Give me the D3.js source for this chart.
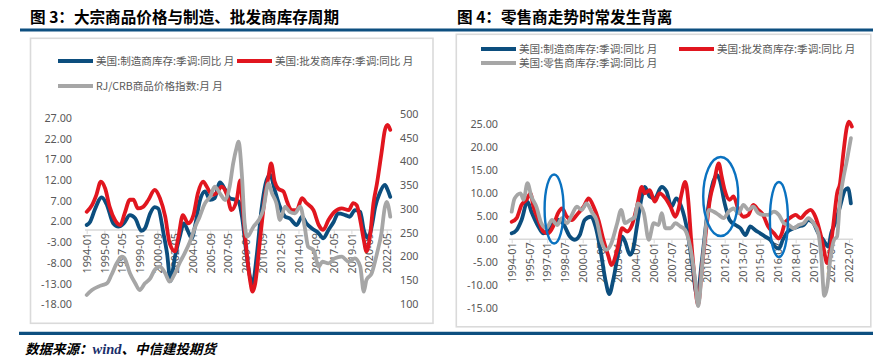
<!DOCTYPE html>
<html><head><meta charset="utf-8">
<script src="https://cdn.jsdelivr.net/npm/d3@7"></script>
<style>body{margin:0;background:#fff}svg{display:block}</style>
</head><body><svg id="c" width="892" height="362"></svg>
<script>
// ---------- DATA ----------
const fig3Title = "图 3：大宗商品价格与制造、批发商库存周期";
const fig4Title = "图 4：零售商走势时常发生背离";
const fig3Legend = ["美国:制造商库存:季调:同比 月", "美国:批发商库存:季调:同比 月", "RJ/CRB商品价格指数:月 月"];
const fig4Legend = ["美国:制造商库存:季调:同比 月", "美国:批发商库存:季调:同比 月", "美国:零售商库存:季调:同比 月"];
const fig3XTicks = ["1994-01","1995-09","1997-05","1999-01","2000-09","2002-05","2004-01","2005-09","2007-05","2009-01","2010-09","2012-05","2014-01","2015-09","2017-05","2019-01","2020-09","2022-05"];
const fig4XTicks = ["1994-01","1995-07","1997-01","1998-07","2000-01","2001-07","2003-01","2004-07","2006-01","2007-07","2009-01","2010-07","2012-01","2013-07","2015-01","2016-07","2018-01","2019-07","2021-01","2022-07"];
const fig3LeftTicks = [27,22,17,12,7,2,-3,-8,-13,-18];
const fig3RightTicks = [500,450,400,350,300,250,200,150,100];
const fig4YTicks = [25,20,15,10,5,0,-5,-10,-15];

const fig3Mfg = [["1994-01",1.2],["1994-05",2.0],["1994-10",4.8],["1995-06",7.9],["1995-12",6.0],["1996-07",1.6],["1997-01",0.8],["1997-07",1.6],["1998-02",3.6],["1998-08",2.8],["1999-03",-0.2],["1999-07",0.4],["2000-01",4.0],["2000-06",5.5],["2000-10",5.2],["2001-04",-0.8],["2001-08",-5.6],["2001-12",-12.3],["2002-05",-6.5],["2002-11",-1.2],["2003-03",1.6],["2003-08",-0.4],["2003-12",-2.0],["2004-04",1.2],["2004-09",6.9],["2005-03",9.3],["2005-09",7.3],["2006-02",7.7],["2006-08",11.5],["2007-02",9.7],["2007-07",7.7],["2008-01",7.3],["2008-05",6.9],["2008-09",3.2],["2009-02",-5.6],["2009-06",-11.3],["2009-09",-12.9],["2010-02",-5.6],["2010-07",4.8],["2011-01",12.1],["2011-05",13.3],["2011-10",9.7],["2012-04",5.6],["2012-10",3.2],["2013-03",2.8],["2013-11",1.2],["2014-05",3.2],["2014-10",1.6],["2015-04",0.4],["2015-12",-0.8],["2016-05",-2.0],["2016-11",0.0],["2017-05",2.0],["2017-10",4.0],["2018-06",3.6],["2018-11",3.2],["2019-05",4.8],["2019-11",4.4],["2020-03",0.0],["2020-08",-2.0],["2020-12",0.8],["2021-04",5.6],["2021-09",8.9],["2022-03",10.9],["2022-06",9.7],["2022-09",8.0]];
const fig3Wholesale = [["1994-01",4.4],["1994-07",6.0],["1994-12",8.5],["1995-05",11.7],["1995-10",10.0],["1996-03",5.6],["1996-09",2.4],["1997-03",1.2],["1997-08",4.0],["1998-02",7.3],["1998-06",7.3],["1998-11",5.2],["1999-05",5.6],["1999-11",7.3],["2000-06",9.7],["2000-12",7.7],["2001-06",3.2],["2001-11",-3.2],["2002-05",-5.2],["2002-09",-1.6],["2003-02",3.6],["2003-08",1.6],["2004-02",3.6],["2004-07",8.9],["2005-01",11.7],["2005-05",10.5],["2005-11",8.5],["2006-04",8.9],["2006-10",10.5],["2007-04",8.5],["2007-09",4.8],["2008-03",7.3],["2008-07",12.0],["2008-10",4.8],["2009-02",-4.8],["2009-06",-12.0],["2009-09",-14.9],["2009-12",-12.9],["2010-05",-3.2],["2010-11",8.0],["2011-03",12.9],["2011-06",16.1],["2011-10",11.7],["2012-02",10.0],["2012-08",9.3],["2012-12",6.9],["2013-05",4.8],["2013-11",4.8],["2014-05",7.7],["2014-10",6.5],["2015-06",4.8],["2015-12",1.2],["2016-05",0.0],["2016-11",2.4],["2017-06",4.4],["2018-02",5.2],["2018-10",4.8],["2019-03",6.5],["2019-07",6.0],["2019-11",2.4],["2020-03",-2.4],["2020-06",-5.2],["2020-10",-1.6],["2021-02",6.5],["2021-06",11.3],["2021-11",18.5],["2022-03",24.2],["2022-06",25.4],["2022-09",24.2]];
const fig3Crb = [["1994-01",119],["1994-07",129.5],["1995-02",136.5],["1995-07",140],["1995-12",143.6],["1996-05",161],["1996-11",185.7],["1997-05",199.6],["1997-08",196],["1998-02",164.6],["1998-08",143.6],["1999-01",129.5],["1999-07",143.6],["2000-01",154],["2000-06",171.6],["2000-12",178.6],["2001-06",164.6],["2001-11",147],["2002-05",164.6],["2002-11",189],["2003-04",206.7],["2003-10",231],["2004-04",262.7],["2004-09",283.8],["2005-03",312],["2005-09",326],["2006-02",347],["2006-08",333],["2007-02",319],["2007-07",347],["2007-11",396],["2008-03",430],["2008-05",441.7],["2008-09",368],["2008-12",270],["2009-03",241.7],["2009-10",262.7],["2010-04",276.8],["2010-09",298],["2011-03",354],["2011-07",333],["2011-12",312],["2012-04",276.8],["2012-10",305],["2013-03",294],["2013-09",291],["2014-03",305],["2014-08",262.7],["2014-12",220.6],["2015-06",213.7],["2015-12",178.6],["2016-04",189],["2016-11",185.7],["2017-06",196],["2018-02",199.6],["2018-10",189],["2019-05",196],["2019-11",178.6],["2020-03",126],["2020-06",150.5],["2020-12",164.6],["2021-06",206.7],["2021-11",248.8],["2022-03",305],["2022-05",315],["2022-09",283.8]];

const fig4Mfg = [["1994-01",1.3],["1994-06",2.0],["1994-11",4.2],["1995-05",8.2],["1995-09",6.0],["1996-04",2.8],["1996-09",1.3],["1997-02",2.0],["1997-07",3.5],["1997-12",4.2],["1998-05",3.5],["1998-12",0.6],["1999-05",-0.1],["1999-10",0.9],["2000-03",4.2],["2000-09",4.9],["2001-02",2.8],["2001-07",-2.3],["2001-12",-8.8],["2002-04",-11.9],["2002-08",-8.8],["2003-01",-3.0],["2003-05",0.6],["2003-08",-0.5],["2004-01",-3.4],["2004-04",-2.3],["2004-08",2.8],["2005-01",9.3],["2005-04",11.4],["2005-09",9.3],["2006-02",8.9],["2006-09",11.4],["2007-02",10.4],["2007-07",7.1],["2007-12",8.9],["2008-05",7.1],["2008-11",2.0],["2009-04",-5.2],["2009-09",-12.3],["2010-02",-4.5],["2010-07",4.9],["2010-12",11.4],["2011-05",14.0],["2011-08",12.9],["2012-01",7.8],["2012-06",4.2],["2012-12",3.1],["2013-05",2.4],["2013-10",0.9],["2014-03",2.8],["2014-08",2.0],["2015-01",1.3],["2015-06",0.6],["2015-11",-0.1],["2016-04",-1.6],["2016-08",-2.0],["2016-12",-0.1],["2017-05",1.7],["2017-11",2.4],["2018-04",2.8],["2018-09",3.1],["2019-02",4.2],["2019-07",3.5],["2019-12",1.3],["2020-05",-0.1],["2020-10",-1.6],["2021-01",1.3],["2021-05",3.5],["2021-10",7.1],["2022-03",10.7],["2022-06",11.1],["2022-09",7.8]];
const fig4Wholesale = [["1994-01",3.8],["1994-06",4.6],["1994-11",7.5],["1995-04",8.6],["1995-08",10.0],["1995-11",7.1],["1996-04",4.2],["1996-09",1.7],["1997-02",1.3],["1997-07",2.8],["1997-12",5.7],["1998-04",6.7],["1998-09",4.9],["1999-02",4.2],["1999-07",5.3],["2000-02",7.1],["2000-07",8.9],["2000-12",7.1],["2001-05",4.2],["2001-10",-0.1],["2002-03",-3.6],["2002-06",-5.6],["2002-12",-2.3],["2003-05",2.4],["2003-10",1.7],["2004-03",3.1],["2004-08",7.1],["2005-01",11.4],["2005-04",10.0],["2005-09",10.7],["2006-02",8.2],["2006-07",10.0],["2007-01",8.9],["2007-06",7.1],["2007-11",4.9],["2008-02",6.4],["2008-05",9.6],["2008-09",12.5],["2008-12",8.6],["2009-03",-0.1],["2009-06",-7.4],["2009-10",-14.3],["2010-02",-5.9],["2010-07",3.5],["2010-10",8.6],["2011-02",12.2],["2011-07",16.5],["2011-10",13.6],["2012-01",10.7],["2012-06",8.6],["2012-10",9.3],["2013-03",6.4],["2013-08",4.9],["2014-01",5.3],["2014-06",7.5],["2014-11",6.4],["2015-04",5.3],["2015-09",2.8],["2016-03",1.3],["2016-08",0.2],["2016-11",1.3],["2017-02",3.5],["2017-07",4.6],["2018-01",5.3],["2018-06",4.6],["2018-11",5.7],["2019-04",6.4],["2019-09",4.9],["2020-02",1.3],["2020-05",-1.6],["2020-09",-5.2],["2020-11",-3.8],["2021-03",2.8],["2021-07",10.0],["2021-10",12.2],["2022-01",18.0],["2022-05",24.5],["2022-07",25.6],["2022-10",24.5]];
const fig4Retail = [["1994-01",6.0],["1994-04",8.9],["1994-10",10.0],["1995-01",8.6],["1995-05",12.2],["1995-09",9.3],["1996-02",7.1],["1996-07",3.5],["1996-12",2.4],["1997-06",4.2],["1997-11",3.1],["1998-04",4.6],["1998-09",3.5],["1999-02",5.3],["1999-07",7.1],["1999-12",6.4],["2000-05",7.8],["2000-10",6.0],["2001-03",4.2],["2001-08",-0.5],["2002-01",-2.3],["2002-06",-0.9],["2002-12",3.5],["2003-04",6.4],["2003-08",3.5],["2004-01",4.2],["2004-06",4.9],["2004-09",7.8],["2005-03",5.7],["2005-08",-0.1],["2006-01",3.5],["2006-06",3.1],["2006-09",5.7],["2007-01",2.4],["2007-06",2.4],["2007-11",3.5],["2008-04",2.8],["2008-09",2.0],["2009-02",-1.6],["2009-07",-8.8],["2009-10",-14.5],["2010-03",-3.8],["2010-09",6.4],["2011-02",6.0],["2011-07",5.3],["2011-12",4.6],["2012-05",6.0],["2012-10",6.7],["2013-03",5.7],["2013-08",7.5],["2014-01",6.4],["2014-06",7.1],["2014-11",5.7],["2015-04",5.3],["2015-09",5.3],["2016-03",6.0],["2016-08",5.3],["2017-01",3.5],["2017-06",3.1],["2017-11",2.4],["2018-04",3.1],["2018-09",3.5],["2019-02",4.6],["2019-07",3.5],["2019-12",1.3],["2020-03",-3.8],["2020-06",-12.3],["2020-09",-10.3],["2020-12",-4.5],["2021-04",-0.1],["2021-07",0.6],["2021-10",8.6],["2022-01",12.9],["2022-05",17.2],["2022-09",22.0]];
// highlighted regions on fig 4: [centre month, centre value]
const fig4Highlights = [["1997-08",6.6],["2011-09",9.3],["2016-08",4.3]];

// ---------- DRAW ----------
const svg = d3.select("#c");
const CN = "'Noto Sans CJK SC','Noto Sans',sans-serif";
const NUM = "'Noto Sans','Open Sans',sans-serif";
const AX = "#595959";
const C_BLUE = "#0c4e7e", C_RED = "#e1161f", C_GRAY = "#a6a6a6", RULE = "#0d4f80";
const mIdx = s => { const [y, m] = s.split("-").map(Number); return (y - 1994) * 12 + (m - 1); };

svg.append("rect").attr("width", 892).attr("height", 362).attr("fill", "#fff");

// rules
svg.append("line").attr("x1", 20).attr("x2", 873).attr("y1", 30).attr("y2", 30).attr("stroke", RULE).attr("stroke-width", 3.2);
svg.append("line").attr("x1", 19).attr("x2", 873).attr("y1", 333.3).attr("y2", 333.3).attr("stroke", RULE).attr("stroke-width", 3.2);

// titles
svg.append("text").attr("x", 30).attr("y", 22.5).attr("font-family", CN).attr("font-weight", 700)
  .attr("font-size", 15.6).attr("fill", "#000").text(fig3Title);
svg.append("text").attr("x", 457).attr("y", 22.5).attr("font-family", CN).attr("font-weight", 700)
  .attr("font-size", 15.6).attr("fill", "#000").text(fig4Title);

// boxes
svg.append("rect").attr("x", 30.5).attr("y", 38.3).attr("width", 402.5).attr("height", 285)
  .attr("fill", "none").attr("stroke", "#dadada").attr("stroke-width", 1.6);
svg.append("rect").attr("x", 456.3).attr("y", 34.3).attr("width", 414.5).attr("height", 292.5)
  .attr("fill", "none").attr("stroke", "#dadada").attr("stroke-width", 1.6);

// footer
const foot = svg.append("text").attr("x", 25).attr("y", 354).attr("font-size", 13.5)
  .attr("font-weight", 700).attr("font-style", "italic").attr("fill", "#000");
foot.append("tspan").attr("font-family", CN).text("数据来源：");
foot.append("tspan").attr("font-family", "'Liberation Serif',serif").attr("font-size", 14.5).attr("fill", "#1a2f6b").text("wind");
foot.append("tspan").attr("font-family", CN).text("、中信建投期货");

// legends
function legendItem(x, y, color, label) {
  svg.append("line").attr("x1", x).attr("x2", x + 35).attr("y1", y).attr("y2", y)
    .attr("stroke", color).attr("stroke-width", 4);
  svg.append("text").attr("x", x + 38).attr("y", y).attr("dy", "0.36em").attr("font-family", CN)
    .attr("font-size", 10.6).attr("fill", AX).text(label);
}
legendItem(58, 61, C_BLUE, fig3Legend[0]);
legendItem(237, 61, C_RED, fig3Legend[1]);
legendItem(58, 86, C_GRAY, fig3Legend[2]);
legendItem(481, 49, C_BLUE, fig4Legend[0]);
legendItem(679, 49, C_RED, fig4Legend[1]);
legendItem(481, 63, C_GRAY, fig4Legend[2]);

const fmt = v => v.toFixed(2);

function xAxis(g, x, ticks, y0, x0, x1) {
  g.append("line").attr("x1", x0).attr("x2", x1).attr("y1", y0).attr("y2", y0)
    .attr("stroke", "#d9d9d9").attr("stroke-width", 1.5);
  const ax = d3.axisBottom(x).tickValues(ticks.map(mIdx)).tickFormat((d, i) => ticks[i]).tickSize(4).tickSizeOuter(0);
  const a = g.append("g").attr("transform", `translate(0,${y0})`).call(ax);
  a.select(".domain").remove();
  a.selectAll(".tick line").attr("stroke", "#d9d9d9").attr("stroke-width", 1);
  a.selectAll(".tick text").attr("transform", "rotate(-90)").attr("x", -3).attr("y", 0)
    .attr("dy", "0.35em").attr("text-anchor", "end").attr("font-family", NUM)
    .attr("font-size", 10.8).attr("fill", AX);
}

const line = (x, y) => d3.line().x(d => x(mIdx(d[0]))).y(d => y(d[1])).curve(d3.curveMonotoneX);
function drawSeries(g, data, x, y, color) {
  g.append("path").datum(data).attr("d", line(x, y)).attr("fill", "none").attr("stroke", color)
    .attr("stroke-width", 3.8).attr("stroke-linejoin", "round").attr("stroke-linecap", "round");
}

// ---------- FIG 3 ----------
{
  const g = svg.append("g");
  const x = d3.scaleLinear().domain([0, 344]).range([86.7, 86.7 + 0.8824 * 344]);
  const yL = d3.scaleLinear().domain([-18, 27]).range([304.4, 118.3]);
  const yR = d3.scaleLinear().domain([100, 500]).range([304, 114]);
  g.selectAll(".yl").data(fig3LeftTicks).join("text").attr("x", 72).attr("y", d => yL(d)).attr("dy", "0.35em")
    .attr("text-anchor", "end").attr("font-family", NUM).attr("font-size", 10.8).attr("fill", AX).text(fmt);
  g.selectAll(".yr").data(fig3RightTicks).join("text").attr("x", 400).attr("y", d => yR(d)).attr("dy", "0.35em")
    .attr("text-anchor", "start").attr("font-family", NUM).attr("font-size", 10.8).attr("fill", AX).text(d => d);
  xAxis(g, x, fig3XTicks, yL(0), 85, 392);
  drawSeries(g, fig3Mfg, x, yL, C_BLUE);
  drawSeries(g, fig3Wholesale, x, yL, C_RED);
  drawSeries(g, fig3Crb, x, yR, C_GRAY);
}

// ---------- FIG 4 ----------
{
  const g = svg.append("g");
  const x = d3.scaleLinear().domain([0, 345]).range([511.7, 511.7 + 0.986 * 345]);
  const y = d3.scaleLinear().domain([-15, 25]).range([308.3, 124.3]);
  g.selectAll(".y").data(fig4YTicks).join("text").attr("x", 498).attr("y", d => y(d)).attr("dy", "0.35em")
    .attr("text-anchor", "end").attr("font-family", NUM).attr("font-size", 10.8).attr("fill", AX).text(fmt);
  xAxis(g, x, fig4XTicks, y(0), 509, 853);
  drawSeries(g, fig4Mfg, x, y, C_BLUE);
  drawSeries(g, fig4Wholesale, x, y, C_RED);
  drawSeries(g, fig4Retail, x, y, C_GRAY);
  const radii = [[9.5, 34.5], [17.5, 39.5], [9, 37.5]];
  g.selectAll(".hl").data(fig4Highlights).join("ellipse")
    .attr("cx", d => x(mIdx(d[0]))).attr("cy", d => y(d[1]))
    .attr("rx", (d, i) => radii[i][0]).attr("ry", (d, i) => radii[i][1])
    .attr("fill", "none").attr("stroke", "#0a72c0").attr("stroke-width", 2.4);
}
</script></body></html>
